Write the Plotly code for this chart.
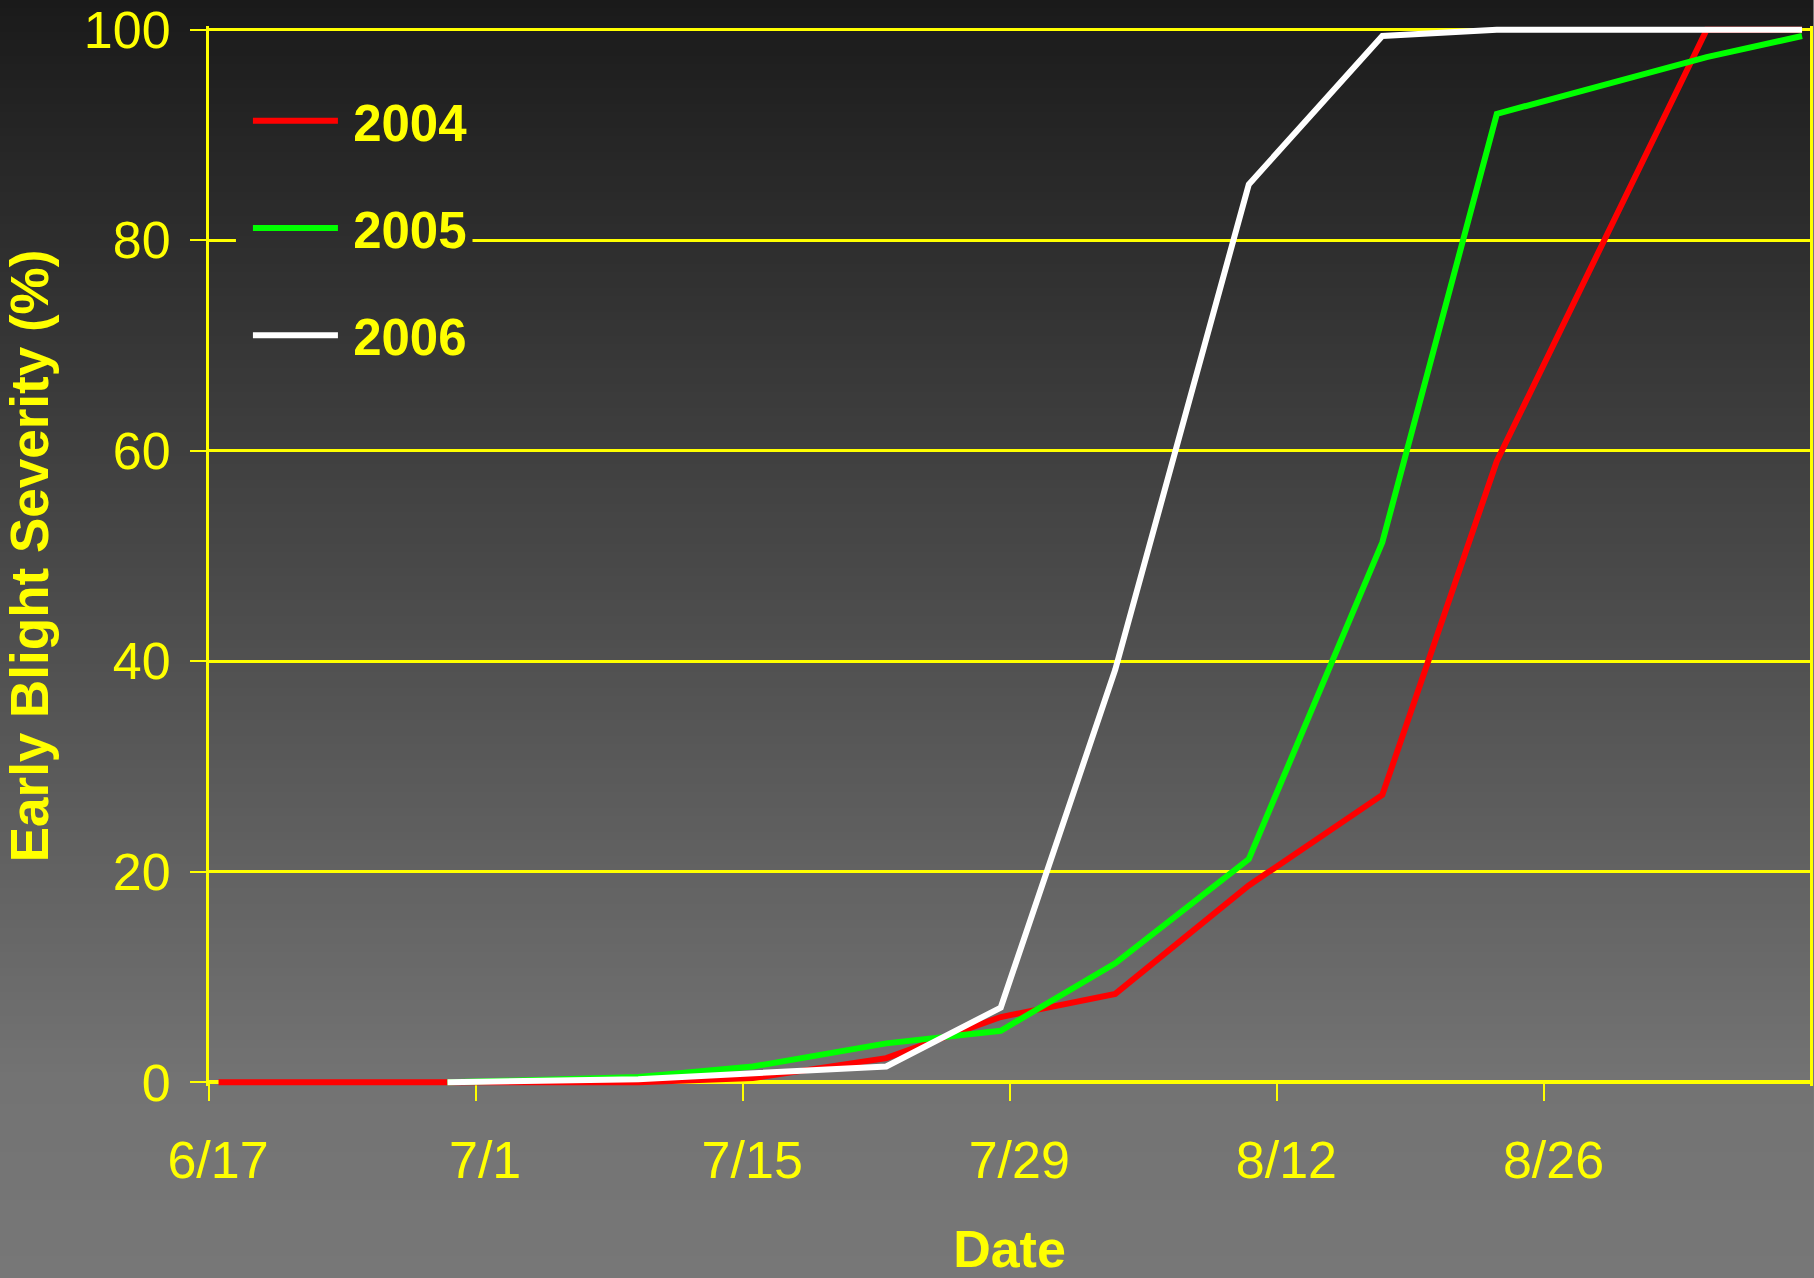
import plotly.graph_objects as go

# ---- data -------------------------------------------------------------
years = ["2004", "2005", "2006"]
line_colors = ["#FF0000", "#00FF00", "#FFFFFF"]

dates_2004 = ["6/17", "6/29", "7/9", "7/15", "7/22", "7/28", "8/3", "8/10",
              "8/17", "8/23", "9/3", "9/8"]
severity_2004 = [0, 0, 0, 0.4, 2.3, 6.2, 8.4, 18.7, 27.3, 59.0, 100, 100]

dates_2005 = ["6/29", "7/9", "7/15", "7/22", "7/28", "8/3", "8/10", "8/17",
              "8/23", "9/3", "9/8"]
severity_2005 = [0, 0.5, 1.5, 3.7, 4.9, 11.3, 21.2, 51.3, 92.0, 97.4, 99.4]

dates_2006 = ["6/29", "7/9", "7/22", "7/28", "8/3", "8/10", "8/17", "8/23",
              "9/8"]
severity_2006 = [0, 0.3, 1.5, 7.1, 39.2, 85.3, 99.4, 100, 100]

x_tick_labels = ["6/17", "7/1", "7/15", "7/29", "8/12", "8/26"]
y_tick_values = [0, 20, 40, 60, 80, 100]

# ---- helpers ------------------------------------------------------------
CAL_YEAR = 2001  # common calendar so the seasons overlay on one date axis


def on_calendar(md, hour=0):
    month, day = (int(p) for p in md.split("/"))
    return f"{CAL_YEAR}-{month:02d}-{day:02d} {hour:02d}:00"


W, H = 1814, 1278
M_L, M_R, M_T, M_B = 209, 1, 26, 192
PLOT_W = W - M_L - M_R
PLOT_H = H - M_T - M_B
Y_PAD = 0.35  # keeps the lines at 0 and 100 fully visible

YELLOW = "#FFFF00"
SANS = "Liberation Sans, Arial, sans-serif"


def bg_gray(py):
    """Vertical background gradient: near-black at top, mid grey at bottom."""
    if py <= 1080:
        g = 26 + (115 - 26) * py / 1080
    else:
        g = 115 + (119 - 115) * (py - 1080) / (H - 1080)
    g = int(round(g))
    return f"rgb({g},{g},{g})"


def px_to_paper_x(px):
    return (px - M_L) / PLOT_W


def px_to_paper_y(py):
    return (H - M_B - py) / PLOT_H


# ---- figure ---------------------------------------------------------------
fig = go.Figure()

series = [(dates_2004, severity_2004), (dates_2005, severity_2005),
          (dates_2006, severity_2006)]
for name, color, (dates, sev) in zip(years, line_colors, series):
    fig.add_trace(go.Scatter(
        x=[on_calendar(d, 12) for d in dates],
        y=sev,
        mode="lines",
        name="\u2009" + name,
        legendgroup=name,
        line=dict(color=color, width=6),
        hovertemplate="%{x|%-m/%-d}: %{y}%<extra>" + name + "</extra>",
    ))

# gradient background stripes
shapes = []
STEP = 8
for top in range(0, H, STEP):
    shapes.append(dict(
        type="rect", xref="paper", yref="paper", layer="below",
        x0=px_to_paper_x(-2), x1=px_to_paper_x(W + 2),
        y0=px_to_paper_y(top + STEP + 1), y1=px_to_paper_y(top),
        fillcolor=bg_gray(top + STEP / 2), line=dict(width=0),
    ))

# legend area masks the 80% gridline behind it
shapes.append(dict(
    type="rect", xref="paper", yref="y", layer="above",
    x0=px_to_paper_x(236), x1=px_to_paper_x(473),
    y0=79.6, y1=80.4,
    fillcolor=bg_gray(240), line=dict(width=0),
))

fig.update_layout(
    width=W, height=H,
    margin=dict(l=M_L, r=M_R, t=M_T, b=M_B, pad=0),
    paper_bgcolor=bg_gray(H),
    plot_bgcolor="rgba(0,0,0,0)",
    shapes=shapes,
    showlegend=True,
    legend=dict(
        x=px_to_paper_x(248), xanchor="left",
        y=px_to_paper_y(81), yanchor="top",
        bgcolor="rgba(0,0,0,0)",
        font=dict(family=SANS, size=51, color=YELLOW, weight="bold"),
        itemwidth=85,
        tracegroupgap=38,
    ),
    xaxis=dict(
        type="date",
        range=[on_calendar("6/17"), on_calendar("9/8", 22)],
        tickvals=[on_calendar(t) for t in x_tick_labels],
        ticktext=x_tick_labels,
        ticks="outside", ticklen=17, tickwidth=2, tickcolor=YELLOW,
        tickfont=dict(family=SANS, size=52, color=YELLOW),
        ticklabelshift=9,
        ticklabelstandoff=14,
        showline=True, linecolor=YELLOW, linewidth=4,
        showgrid=False, zeroline=False,
        layer="below traces",
        anchor="free", position=Y_PAD / (100 + 2 * Y_PAD),
        title=dict(text="Date", standoff=50,
                   font=dict(family=SANS, size=52, color=YELLOW,
                             weight="bold")),
    ),
    yaxis=dict(
        range=[-Y_PAD, 100 + Y_PAD],
        tickvals=y_tick_values,
        ticks="outside", ticklen=16, tickwidth=2, tickcolor=YELLOW,
        tickfont=dict(family=SANS, size=52, color=YELLOW),
        ticklabelstandoff=9,
        showline=True, linecolor=YELLOW, linewidth=3, mirror=True,
        showgrid=True, gridcolor=YELLOW, gridwidth=3,
        zeroline=False,
        layer="below traces",
        title=dict(text="Early Blight Severity (%)", standoff=19,
                   font=dict(family=SANS, size=53, color=YELLOW,
                             weight="bold")),
    ),
)

fig.write_html("out.html")
